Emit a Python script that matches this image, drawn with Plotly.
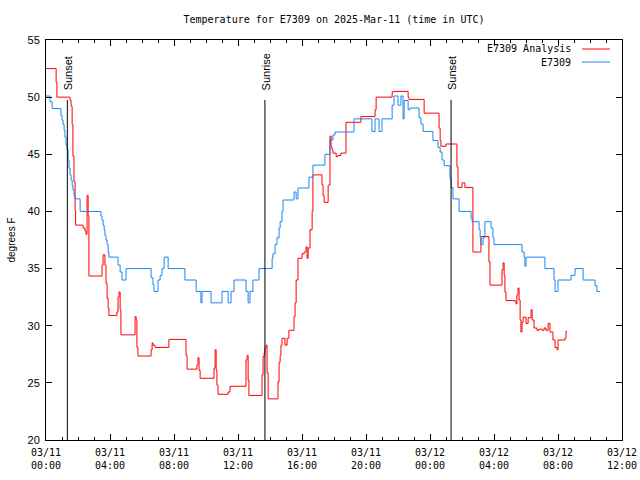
import pandas as pd
import plotly.graph_objects as go

START = pd.Timestamp("2025-03-11 00:00")

# E7309 (station observations): minutes after 2025-03-11 00:00 UTC, degrees F
station_minutes = [0, 15, 23, 56, 60, 64, 68, 71, 75, 79, 83, 86, 90, 94, 98, 101, 105, 109, 128,
                   206, 210, 214, 218, 221, 225, 229, 233, 236, 270, 278, 285, 300, 394, 401, 405,
                   420, 428, 435, 443, 458, 521, 563, 581, 585, 619, 660, 683, 694, 705, 750, 758,
                   765, 776, 799, 848, 851, 859, 866, 874, 878, 885, 889, 930, 938, 945, 986, 1001,
                   1046, 1065, 1076, 1084, 1155, 1222, 1234, 1249, 1260, 1298, 1305, 1320, 1331,
                   1339, 1343, 1358, 1365, 1399, 1406, 1414, 1451, 1470, 1478, 1485, 1493, 1515,
                   1519, 1526, 1549, 1594, 1598, 1624, 1628, 1631, 1639, 1646, 1669, 1676, 1680,
                   1785, 1793, 1796, 1800, 1871, 1905, 1909, 1920, 1969, 1984, 2014, 2059, 2066, 2078]
station_temps = [50.1, 49.6, 49.0, 48.4, 48.0, 47.6, 47.1, 46.5, 45.8, 45.4, 44.5, 43.8, 43.2, 42.75,
                 42.3, 41.9, 41.4, 41.1, 40.0, 39.6, 39.25, 38.8, 38.4, 37.9, 37.5, 37.1, 36.45, 36.0,
                 35.3, 34.7, 34.0, 35.0, 34.2, 33.6, 33.0, 34.0, 34.4, 35.0, 36.0, 35.0, 34.0, 33.0,
                 32.0, 33.0, 32.0, 33.0, 32.0, 33.0, 34.0, 33.0, 32.0, 33.0, 34.0, 35.0, 35.9, 36.3,
                 37.1, 37.7, 38.55, 39.1, 40.0, 41.0, 41.7, 41.1, 42.05, 43.0, 44.05, 45.0, 46.25,
                 46.7, 46.95, 48.1, 47.0, 48.1, 47.0, 48.1, 49.3, 50.1, 49.3, 50.1, 48.1, 49.7, 48.9,
                 49.05, 48.2, 47.65, 47.0, 46.2, 45.6, 45.2, 44.5, 44.0, 42.9, 42.1, 41.1, 40.0, 39.4,
                 39.1, 38.4, 37.7, 37.1, 37.7, 39.1, 38.55, 37.7, 37.1, 36.45, 36.0, 35.2, 36.0, 35.0,
                 34.0, 33.0, 34.0, 34.4, 35.0, 34.0, 33.5, 33.0, 33.0]

# E7309 Analysis: minutes after 2025-03-11 00:00 UTC, degrees F
analysis_minutes = [0, 38, 41, 90, 94, 98, 101, 105, 109, 111, 139, 146, 150, 154, 158, 161, 210, 214,
                    221, 225, 229, 233, 236, 266, 270, 274, 278, 281, 334, 338, 341, 345, 394, 398,
                    401, 409, 461, 525, 529, 566, 570, 574, 578, 630, 634, 638, 641, 645, 683, 690,
                    750, 754, 758, 761, 810, 814, 818, 821, 825, 829, 833, 870, 874, 878, 881, 885,
                    896, 904, 911, 930, 934, 938, 945, 960, 968, 975, 979, 983, 990, 998, 1001, 1035,
                    1039, 1043, 1058, 1065, 1069, 1073, 1076, 1088, 1095, 1106, 1125, 1181, 1234,
                    1238, 1298, 1301, 1358, 1361, 1418, 1474, 1478, 1481, 1500, 1541, 1545, 1560,
                    1571, 1601, 1631, 1661, 1665, 1710, 1714, 1718, 1721, 1725, 1759, 1763, 1766,
                    1770, 1774, 1778, 1781, 1785, 1789, 1800, 1808, 1819, 1823, 1830, 1841, 1849,
                    1860, 1868, 1875, 1883, 1890, 1901, 1909, 1916, 1920, 1946, 1950, 1954]
analysis_temps = [52.5, 51.3, 50.0, 49.75, 49.2, 47.6, 44.85, 42.6, 40.1, 38.8, 38.55, 38.3, 38.0,
                  41.4, 39.6, 34.35, 35.3, 36.2, 35.3, 33.7, 32.4, 31.55, 30.9, 31.2, 32.5, 32.95,
                  31.4, 29.2, 30.8, 30.5, 28.1, 27.35, 27.9, 28.5, 28.3, 28.1, 28.8, 27.4, 26.2,
                  26.55, 27.2, 26.1, 25.4, 26.3, 27.9, 26.1, 24.8, 24.0, 24.2, 24.7, 27.0, 27.4,
                  25.25, 23.9, 25.7, 27.3, 27.6, 28.05, 28.3, 25.9, 23.6, 25.1, 26.8, 27.4, 28.3,
                  28.9, 28.3, 28.9, 29.6, 30.8, 32.0, 34.0, 35.9, 36.3, 36.45, 36.9, 35.9, 36.8,
                  38.4, 40.0, 43.2, 42.3, 41.4, 40.8, 42.3, 46.6, 45.6, 45.4, 45.1, 44.8, 44.9, 45.1,
                  47.8, 48.3, 48.9, 50.0, 50.4, 50.5, 50.0, 49.8, 48.6, 47.3, 46.2, 45.7, 45.9, 43.9,
                  42.1, 42.5, 42.1, 36.45, 37.8, 35.6, 33.55, 34.9, 35.5, 34.4, 32.95, 32.2, 32.1,
                  31.9, 32.7, 33.3, 32.25, 30.5, 29.45, 30.3, 30.75, 30.2, 30.7, 31.4, 30.5, 29.8,
                  29.6, 29.7, 29.6, 29.8, 29.6, 30.2, 29.45, 28.75, 28.1, 27.9, 28.75, 28.9, 29.5, 29.5]

series_names = ["E7309 Analysis", "E7309"]
series_colors = ["#ff0000", "#1c86ee"]

sun_event_times = ["2025-03-11 01:20", "2025-03-11 13:41", "2025-03-12 01:19"]
sun_event_labels = ["Sunset", "Sunrise", "Sunset"]

x_tick_times = ["2025-03-11 00:00", "2025-03-11 04:00", "2025-03-11 08:00", "2025-03-11 12:00",
                "2025-03-11 16:00", "2025-03-11 20:00", "2025-03-12 00:00", "2025-03-12 04:00",
                "2025-03-12 08:00", "2025-03-12 12:00"]
x_tick_labels = ["03/11<br>00:00", "03/11<br>04:00", "03/11<br>08:00", "03/11<br>12:00",
                 "03/11<br>16:00", "03/11<br>20:00", "03/12<br>00:00", "03/12<br>04:00",
                 "03/12<br>08:00", "03/12<br>12:00"]
y_ticks = [20, 25, 30, 35, 40, 45, 50, 55]

MONO = "DejaVu Sans Mono"
SANS = "Liberation Sans, Arial, sans-serif"

station_t = START + pd.to_timedelta(station_minutes, unit="m")
analysis_t = START + pd.to_timedelta(analysis_minutes, unit="m")

fig = go.Figure()
fig.add_trace(go.Scatter(x=analysis_t, y=analysis_temps, mode="lines", name=series_names[0],
                         line=dict(color=series_colors[0], width=1, shape="hv"), showlegend=False))
fig.add_trace(go.Scatter(x=station_t, y=station_temps, mode="lines", name=series_names[1],
                         line=dict(color=series_colors[1], width=1, shape="hv"), showlegend=False))

shapes = []
annotations = []
for t, lab in zip(sun_event_times, sun_event_labels):
    shapes.append(dict(type="line", xref="x", yref="paper", x0=t, x1=t, y0=0, y1=0.85,
                       line=dict(color="black", width=1)))
    annotations.append(dict(x=t, y=0.87, xref="x", yref="paper", text=lab, textangle=-90,
                            showarrow=False, xanchor="center", yanchor="bottom", xshift=1,
                            font=dict(family=SANS, size=11, color="black")))

# legend (gnuplot style: text then line sample)
leg_y = [0.9775, 0.945]
for name, col, yy in zip(series_names, series_colors, leg_y):
    annotations.append(dict(x=0.915, y=yy, xref="paper", yref="paper", text=name, showarrow=False,
                            xanchor="right", yanchor="middle",
                            font=dict(family=MONO, size=10, color="black")))
    shapes.append(dict(type="line", xref="paper", yref="paper", x0=0.9306, x1=0.979, y0=yy, y1=yy,
                       line=dict(color=col, width=1)))

fig.update_layout(
    width=640, height=480, autosize=False,
    margin=dict(l=46, r=18, t=40, b=40, autoexpand=False),
    paper_bgcolor="white", plot_bgcolor="white",
    title=dict(text="Temperature for E7309 on 2025-Mar-11 (time in UTC)", x=0.5, xref="paper",
               xanchor="center", y=1 - 19 / 480, yref="container", yanchor="middle",
               automargin=False,
               font=dict(family=MONO, size=10, color="black")),
    shapes=shapes, annotations=annotations,
    xaxis=dict(type="date", range=[x_tick_times[0], x_tick_times[-1]],
               tickvals=x_tick_times, ticktext=x_tick_labels, automargin=False,
               showline=True, linecolor="black", linewidth=1, mirror="allticks",
               ticks="inside", ticklen=6, tickcolor="black", tickwidth=1,
               showgrid=False, zeroline=False, ticklabelstandoff=3,
               minor=dict(ticks="inside", ticklen=3, dtick=3600000, tickcolor="black", showgrid=False),
               tickfont=dict(family=MONO, size=10, color="black")),
    yaxis=dict(range=[20, 55], tickvals=y_ticks, showline=True, linecolor="black", linewidth=1,
               mirror="allticks", ticks="inside", ticklen=6, tickcolor="black", tickwidth=1,
               showgrid=False, zeroline=False, automargin=False, ticklabelstandoff=3,
               tickfont=dict(family=SANS, size=11, color="black"),
               title=dict(text="degrees F", font=dict(family=SANS, size=10, color="black"), standoff=10)),
)

# remove the default 8px page margin so the 640x480 figure fills the window exactly
fig.write_html("out.html", config={"displayModeBar": False},
               post_script="document.body.style.margin='0';document.body.style.overflow='hidden';")
